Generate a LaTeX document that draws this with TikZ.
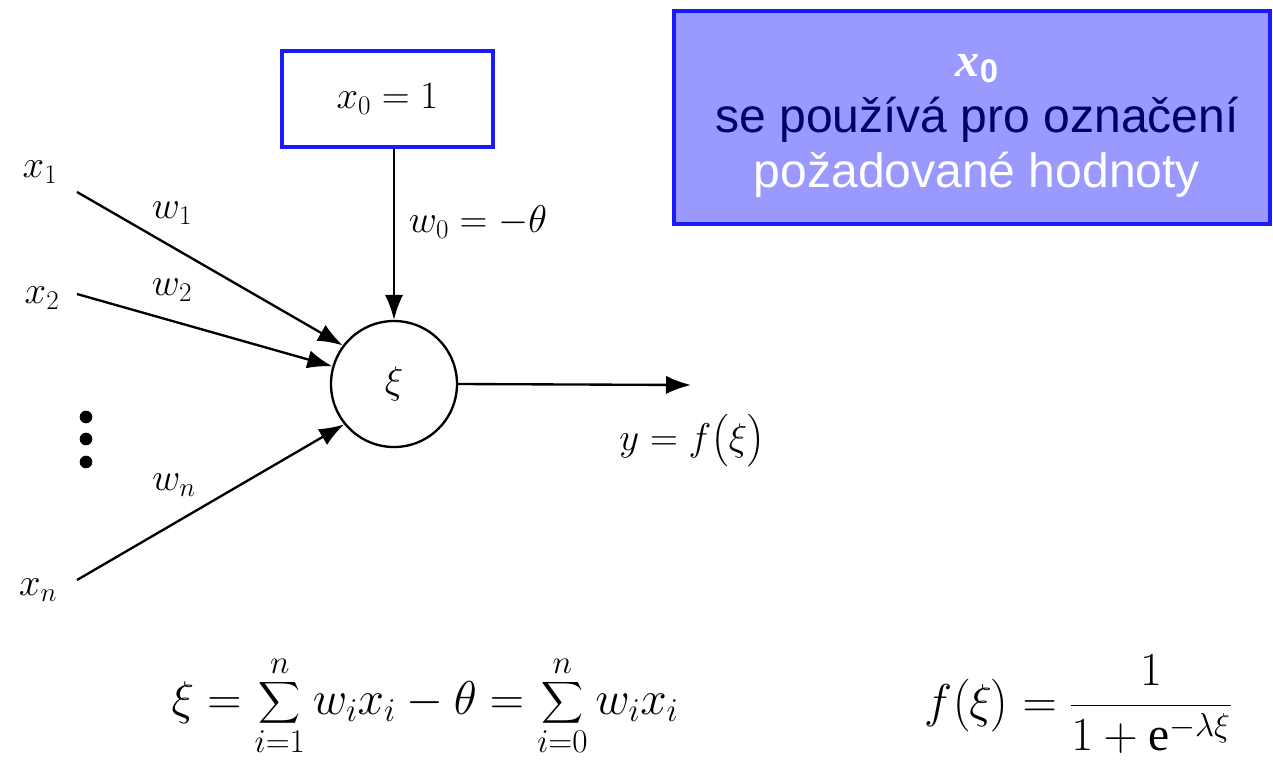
\documentclass[tikz,border=0pt]{standalone}
\usepackage{fix-cm}
\usepackage{exscale}
\usepackage{fontspec}
\setmainfont{Liberation Serif}
\newfontfamily\boxfont{Liberation Sans}
\newfontfamily\serifbox{Liberation Serif}
\usetikzlibrary{arrows.meta}
\definecolor{boxblue}{HTML}{1A1AFF}
\definecolor{boxfill}{HTML}{9999FF}
\definecolor{navytext}{HTML}{000066}
\begin{document}
\begin{tikzpicture}[x=0.03cm,y=-0.03cm,
  conn/.style={-{Latex[length=0.75cm,width=0.55cm]}, line width=2pt},
  lbl/.style={font=\fontsize{33}{39}\selectfont, inner sep=0pt},
  bigf/.style={font=\fontsize{40.5}{46}\selectfont, inner sep=0pt}]
\useasboundingbox (0,0) rectangle (1273,771);

% input box
\node[draw=boxblue, line width=3.5pt, minimum width=6.33cm, minimum height=2.88cm, inner sep=0pt,
      font=\fontsize{33}{39}\selectfont] (xbox) at (387.5,99) {$x_0=1$};
% neuron
\node[draw, circle, line width=2pt, minimum size=3.78cm, inner sep=0pt,
      font=\fontsize{33}{39}\selectfont] (neuron) at (394,384) {$\xi$};

% labels
\node[lbl] (x1) at (40,172) {$x_1$};
\node[lbl] (x2) at (42,298) {$x_2$};
\node[lbl] (xn) at (38,590) {$x_n$};
\node[lbl] (w1) at (172,213) {$w_1$};
\node[lbl] (w2) at (172,290) {$w_2$};
\node[lbl] (wn) at (174,485) {$w_n$};
\node[lbl] (w0) at (478,222) {$w_0=-\theta$};
\node[lbl] (y) at (692,441) {$y=f\bigl(\xi\bigr)$};

% dots
\foreach \yy in {417,439,462} \fill (86,\yy) circle (0.19cm);

% start points
\coordinate (a1) at (77,192);
\coordinate (a2) at (77,294);
\coordinate (an) at (77,580);
\coordinate (out) at (691,385);

\draw[conn] (a1) -- (neuron.143);
\draw[conn] (a2) -- (neuron.164);
\draw[conn] (an) -- (neuron.219);
\draw[conn] (xbox.south -| neuron.north) -- (neuron.north);
\draw[conn] (neuron.east) -- (out);

% info box
\node[draw=boxblue, fill=boxfill, line width=3.5pt, minimum width=17.88cm, minimum height=6.39cm,
      inner sep=0pt] (info) at (972,117.5) {};
\node[align=center, inner sep=0pt, font=\boxfont\fontsize{41}{47.5}\selectfont] (infotext) at (977,126)
  {\textcolor{white}{\serifbox\bfseries\itshape x}\raisebox{-0.25ex}{\textcolor{white}{\bfseries\fontsize{28}{30}\selectfont 0}}\\
   \textcolor{navytext}{se používá pro označení}\\
   \textcolor{white}{požadované hodnoty}};

% formulas
\node[bigf] (sum) at (425,706) {$\displaystyle \xi=\sum_{i=1}^{n} w_i x_i-\theta=\sum_{i=0}^{n} w_i x_i$};
\node[bigf] (sig) at (1078,704) {$\displaystyle f\bigl(\xi\bigr)=\frac{1}{1+\mbox{\serifbox e}^{-\lambda\xi}}$};
\end{tikzpicture}
\end{document}
